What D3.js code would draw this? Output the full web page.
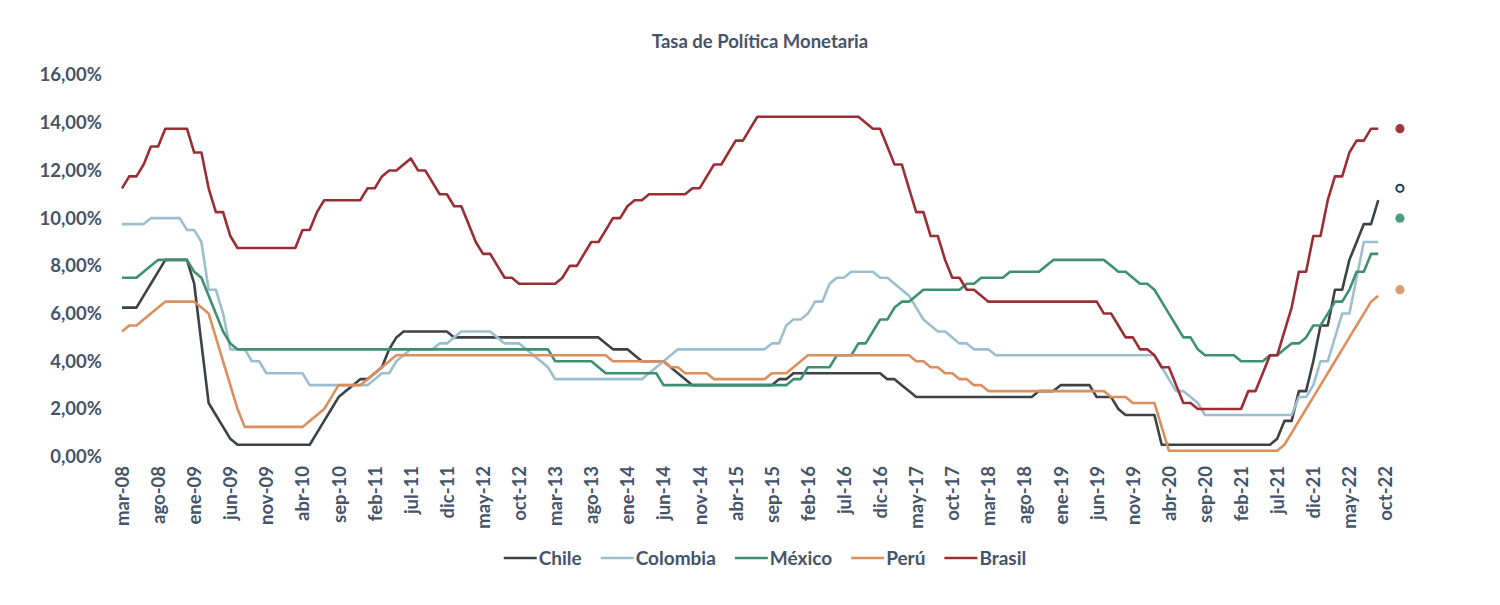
<!DOCTYPE html>
<html>
<head>
<meta charset="utf-8">
<script src="https://cdn.jsdelivr.net/npm/d3@7"></script>
<style>
  html, body { margin: 0; padding: 0; background: #fff; }
  svg { display: block; font-family: Lato, "Liberation Sans", sans-serif; }
  .lbl { fill: #44546a; font-weight: bold; }
</style>
</head>
<body>
<div id="chart"></div>
<script>
// monthly policy rates, mar-08 .. sep-22 (one row per year)
var chile = [
  6.25,6.25,6.25,6.75,7.25,7.75,8.25,8.25,8.25,8.25,
  7.25,4.75,2.25,1.75,1.25,0.75,0.5,0.5,0.5,0.5,0.5,0.5,
  0.5,0.5,0.5,0.5,0.5,1,1.5,2,2.5,2.75,3,3.25,
  3.25,3.5,3.75,4.5,5,5.25,5.25,5.25,5.25,5.25,5.25,5.25,
  5,5,5,5,5,5,5,5,5,5,5,5,
  5,5,5,5,5,5,5,5,5,4.75,4.5,4.5,
  4.5,4.25,4,4,4,4,3.75,3.5,3.25,3,3,3,
  3,3,3,3,3,3,3,3,3,3.25,3.25,3.5,
  3.5,3.5,3.5,3.5,3.5,3.5,3.5,3.5,3.5,3.5,3.5,3.5,
  3.25,3.25,3,2.75,2.5,2.5,2.5,2.5,2.5,2.5,2.5,2.5,
  2.5,2.5,2.5,2.5,2.5,2.5,2.5,2.5,2.5,2.75,2.75,2.75,
  3,3,3,3,3,2.5,2.5,2.5,2,1.75,1.75,1.75,
  1.75,1.75,0.5,0.5,0.5,0.5,0.5,0.5,0.5,0.5,0.5,0.5,
  0.5,0.5,0.5,0.5,0.5,0.5,0.75,1.5,1.5,2.75,2.75,4,
  5.5,5.5,7,7,8.25,9,9.75,9.75,10.75
];
var colombia = [
  9.75,9.75,9.75,9.75,10,10,10,10,10,9.5,
  9.5,9,7,7,6,4.5,4.5,4.5,4,4,3.5,3.5,
  3.5,3.5,3.5,3.5,3,3,3,3,3,3,3,3,
  3,3.25,3.5,3.5,4,4.25,4.5,4.5,4.5,4.5,4.75,4.75,
  5,5.25,5.25,5.25,5.25,5.25,5,4.75,4.75,4.75,4.5,4.25,
  4,3.75,3.25,3.25,3.25,3.25,3.25,3.25,3.25,3.25,3.25,3.25,
  3.25,3.25,3.25,3.5,3.75,4,4.25,4.5,4.5,4.5,4.5,4.5,
  4.5,4.5,4.5,4.5,4.5,4.5,4.5,4.5,4.75,4.75,5.5,5.75,
  5.75,6,6.5,6.5,7.25,7.5,7.5,7.75,7.75,7.75,7.75,7.5,
  7.5,7.25,7,6.75,6.25,5.75,5.5,5.25,5.25,5,4.75,4.75,
  4.5,4.5,4.5,4.25,4.25,4.25,4.25,4.25,4.25,4.25,4.25,4.25,
  4.25,4.25,4.25,4.25,4.25,4.25,4.25,4.25,4.25,4.25,4.25,4.25,
  4.25,4.25,3.75,3.25,2.75,2.75,2.5,2.25,1.75,1.75,1.75,1.75,
  1.75,1.75,1.75,1.75,1.75,1.75,1.75,1.75,1.75,2.5,2.5,3,
  4,4,5,6,6,7.5,9,9,9
];
var mexico = [
  7.5,7.5,7.5,7.75,8,8.25,8.25,8.25,8.25,8.25,
  7.75,7.5,6.75,6,5.25,4.75,4.5,4.5,4.5,4.5,4.5,4.5,
  4.5,4.5,4.5,4.5,4.5,4.5,4.5,4.5,4.5,4.5,4.5,4.5,
  4.5,4.5,4.5,4.5,4.5,4.5,4.5,4.5,4.5,4.5,4.5,4.5,
  4.5,4.5,4.5,4.5,4.5,4.5,4.5,4.5,4.5,4.5,4.5,4.5,
  4.5,4.5,4,4,4,4,4,4,3.75,3.5,3.5,3.5,
  3.5,3.5,3.5,3.5,3.5,3,3,3,3,3,3,3,
  3,3,3,3,3,3,3,3,3,3,3,3.25,
  3.25,3.75,3.75,3.75,3.75,4.25,4.25,4.25,4.75,4.75,5.25,5.75,
  5.75,6.25,6.5,6.5,6.75,7,7,7,7,7,7,7.25,
  7.25,7.5,7.5,7.5,7.5,7.75,7.75,7.75,7.75,7.75,8,8.25,
  8.25,8.25,8.25,8.25,8.25,8.25,8.25,8,7.75,7.75,7.5,7.25,
  7.25,7,6.5,6,5.5,5,5,4.5,4.25,4.25,4.25,4.25,
  4.25,4,4,4,4,4.25,4.25,4.5,4.75,4.75,5,5.5,
  5.5,6,6.5,6.5,7,7.75,7.75,8.5,8.5
];
var peru = [
  5.25,5.5,5.5,5.75,6,6.25,6.5,6.5,6.5,6.5,
  6.5,6.25,6,5,4,3,2,1.25,1.25,1.25,1.25,1.25,
  1.25,1.25,1.25,1.25,1.5,1.75,2,2.5,3,3,3,3,
  3.25,3.5,3.75,4,4.25,4.25,4.25,4.25,4.25,4.25,4.25,4.25,
  4.25,4.25,4.25,4.25,4.25,4.25,4.25,4.25,4.25,4.25,4.25,4.25,
  4.25,4.25,4.25,4.25,4.25,4.25,4.25,4.25,4.25,4.25,4,4,
  4,4,4,4,4,4,3.75,3.75,3.5,3.5,3.5,3.5,
  3.25,3.25,3.25,3.25,3.25,3.25,3.25,3.25,3.5,3.5,3.5,3.75,
  4,4.25,4.25,4.25,4.25,4.25,4.25,4.25,4.25,4.25,4.25,4.25,
  4.25,4.25,4.25,4.25,4,4,3.75,3.75,3.5,3.5,3.25,3.25,
  3,3,2.75,2.75,2.75,2.75,2.75,2.75,2.75,2.75,2.75,2.75,
  2.75,2.75,2.75,2.75,2.75,2.75,2.75,2.5,2.5,2.5,2.25,2.25,
  2.25,2.25,1.25,0.25,0.25,0.25,0.25,0.25,0.25,0.25,0.25,0.25,
  0.25,0.25,0.25,0.25,0.25,0.25,0.25,0.5,1,1.5,2,2.5,
  3,3.5,4,4.5,5,5.5,6,6.5,6.75
];
var brasil = [
  11.25,11.75,11.75,12.25,13,13,13.75,13.75,13.75,13.75,
  12.75,12.75,11.25,10.25,10.25,9.25,8.75,8.75,8.75,8.75,8.75,8.75,
  8.75,8.75,8.75,9.5,9.5,10.25,10.75,10.75,10.75,10.75,10.75,10.75,
  11.25,11.25,11.75,12,12,12.25,12.5,12,12,11.5,11,11,
  10.5,10.5,9.75,9,8.5,8.5,8,7.5,7.5,7.25,7.25,7.25,
  7.25,7.25,7.25,7.5,8,8,8.5,9,9,9.5,10,10,
  10.5,10.75,10.75,11,11,11,11,11,11,11.25,11.25,11.75,
  12.25,12.25,12.75,13.25,13.25,13.75,14.25,14.25,14.25,14.25,14.25,14.25,
  14.25,14.25,14.25,14.25,14.25,14.25,14.25,14.25,14.25,14,13.75,13.75,
  13,12.25,12.25,11.25,10.25,10.25,9.25,9.25,8.25,7.5,7.5,7,
  7,6.75,6.5,6.5,6.5,6.5,6.5,6.5,6.5,6.5,6.5,6.5,
  6.5,6.5,6.5,6.5,6.5,6.5,6,6,5.5,5,5,4.5,
  4.5,4.25,3.75,3.75,3,2.25,2.25,2,2,2,2,2,
  2,2,2.75,2.75,3.5,4.25,4.25,5.25,6.25,7.75,7.75,9.25,
  9.25,10.75,11.75,11.75,12.75,13.25,13.25,13.75,13.75
];

// year-end markers (dic-22)
var markerNames = ['Brasil', 'Chile', 'México', 'Perú'];
var markerValues = [13.75, 11.25, 10, 7];
var markerMonth = 177;

var monthNames = ['ene','feb','mar','abr','may','jun','jul','ago','sep','oct','nov','dic'];
var startYear = 2008, startMonth = 2;   // mar-08
var tickEvery = 5;
var lastTick = 175;                      // oct-22
var yTicks = [0, 2, 4, 6, 8, 10, 12, 14, 16];

var seriesNames = ['Chile', 'Colombia', 'México', 'Perú', 'Brasil'];
var seriesValues = [chile, colombia, mexico, peru, brasil];
var seriesColors = ['#3d4246', '#9cbfcf', '#3e9070', '#d98f5e', '#9b2d35'];
var markerColors = {Brasil: '#a0373f', Chile: '#1f3b4f', 'México': '#4c9c7f', 'Perú': '#dd9c6e'};

(function chart() {
  'use strict';
  var width = 1500, height = 605;
  var svg = d3.select('#chart').append('svg')
      .attr('width', width).attr('height', height);

  // category labels mar-08 ... oct-22
  var categories = d3.range(lastTick + 1).map(function(i) {
    var m = startMonth + i;
    var yr = startYear + Math.floor(m / 12);
    return monthNames[m % 12] + '-' + String(yr % 100).padStart(2, '0');
  });

  var x = d3.scaleLinear().domain([0, lastTick]).range([122, 1385.5]);
  var y = d3.scaleLinear().domain([0, 16]).range([456.7, 75]);

  var es = d3.formatLocale({decimal: ',', thousands: '.', grouping: [3], currency: ['', '']});
  var pct = es.format('.2f');

  svg.append('text').attr('class', 'lbl')
      .attr('x', 760).attr('y', 42).attr('dy', '0.35em')
      .attr('text-anchor', 'middle').style('font-size', '18.5px')
      .text('Tasa de Política Monetaria');

  // y axis labels (no line, no grid)
  var yAxis = svg.append('g').attr('transform', 'translate(102,0)')
      .call(d3.axisLeft(y).tickValues(yTicks).tickSize(0).tickPadding(0)
            .tickFormat(function(d) { return pct(d) + '%'; }))
      .attr('font-family', null).attr('font-size', null);
  yAxis.select('.domain').remove();
  yAxis.selectAll('text').attr('class', 'lbl').style('font-size', '18.5px');

  // x axis labels, rotated
  var tickIdx = d3.range(0, lastTick + 1, tickEvery);
  var xAxis = svg.append('g').attr('transform', 'translate(0,466)')
      .call(d3.axisBottom(x).tickValues(tickIdx).tickSize(0).tickPadding(0)
            .tickFormat(function(i) { return categories[i]; }))
      .attr('font-family', null).attr('font-size', null);
  xAxis.select('.domain').remove();
  xAxis.selectAll('text').attr('class', 'lbl')
      .style('font-size', '18.5px')
      .attr('text-anchor', 'end')
      .attr('transform', 'rotate(-90)')
      .attr('x', 0).attr('y', 0).attr('dy', '0.35em');

  var line = d3.line()
      .x(function(d, i) { return x(i); })
      .y(function(d) { return y(d); });

  svg.append('g').selectAll('path')
      .data(seriesValues)
      .join('path')
      .attr('d', line)
      .attr('fill', 'none')
      .attr('stroke', function(d, i) { return seriesColors[i]; })
      .attr('stroke-width', 2.6)
      .attr('stroke-linejoin', 'round');

  svg.append('g').selectAll('circle')
      .data(markerValues)
      .join('circle')
      .attr('cx', x(markerMonth))
      .attr('cy', function(d) { return y(d); })
      .attr('r', function(d, i) { return markerNames[i] === 'Chile' ? 3.6 : 4.6; })
      .attr('fill', function(d, i) { return markerNames[i] === 'Chile' ? '#fff' : markerColors[markerNames[i]]; })
      .attr('stroke', function(d, i) { return markerNames[i] === 'Chile' ? markerColors.Chile : 'none'; })
      .attr('stroke-width', 2);

  // legend
  var legend = svg.append('g');
  var cursor = 0;
  legend.selectAll('g').data(seriesNames).join('g').each(function(name, i) {
    var g = d3.select(this).attr('transform', 'translate(' + cursor + ',0)');
    g.append('line').attr('x1', 0).attr('x2', 33).attr('y1', 0).attr('y2', 0)
        .attr('stroke', seriesColors[i]).attr('stroke-width', 2.6);
    var t = g.append('text').attr('class', 'lbl').attr('x', 35).attr('dy', '0.35em')
        .style('font-size', '19px').text(name);
    cursor += 35 + t.node().getComputedTextLength() + 19;
  });
  var legendWidth = cursor - 19;
  legend.attr('transform', 'translate(' + (765 - legendWidth / 2) + ',558)');
})();
</script>
</body>
</html>
